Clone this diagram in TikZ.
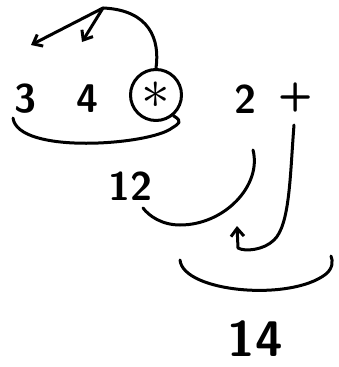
\documentclass[tikz,border=0pt]{standalone}
\usepackage{tikz}
\usepackage{graphicx}
\usetikzlibrary{arrows.meta}

\begin{document}
\begin{tikzpicture}[x=1pt, y=-1pt, line width=3pt, line cap=round, line join=round,
    every node/.style={font=\sffamily\bfseries\fontsize{40}{40}\selectfont, inner sep=0pt},
    hand/.style={-{Straight Barb[length=8pt, width=13pt]}}]
    \useasboundingbox (0,0) rectangle (338,367);
    %\draw[help lines] grid(338,367);
    % -------------------------
    % Top row: 3 4 (*) 2 +
    % -------------------------
    \node (three) at (26,99) {3};
    \node (four) at (87,99) {4};
    \node[circle, draw, minimum size=51pt] (star) at (156,95) {\scalebox{2.3}{$\mathbf{\ast}$}};
    \node (two) at (245,99) {2};
    \node (plus) at (296,97) {+};

    % Arrows from the operator back to its operands
    \coordinate (top) at (103,8);
    \coordinate (tipthree) at (31,45);
    \coordinate (tipfour) at (82,42);
    \draw[hand] (star.north) .. controls (160,40) and (150,10) .. (top) -- (tipthree);
    \draw[hand] (top) -- (tipfour);

    % -------------------------
    % First result ("12")
    % -------------------------
    \draw (13,118) .. controls (18,155) and (150,145) .. (172,128)
        .. controls (178,124) and (184,122) .. (star.-50);
    \node (twelve) at (130,186) {12};
    \coordinate (twostart) at (253,150);
    \draw (twostart) .. controls (262,185) and (225,225) .. (180,225)
        .. controls (162,225) and (149,216) .. (143,208);

    % -------------------------
    % Second operator ("+")
    % -------------------------
    \coordinate (plusstart) at (294,125);
    \coordinate (tipplus) at (237,226);
    \draw[hand] (plusstart) .. controls (290,175) and (290,225) .. (274,240)
        .. controls (264,250) and (245,252) .. (238,248) -- (tipplus);

    % -------------------------
    % Final result ("14")
    % -------------------------
    \draw (180,260) .. controls (183,292) and (290,302) .. (326,274)
        .. controls (333,268) and (333,261) .. (331,256);
    \node[font=\sffamily\bfseries\fontsize{50}{50}\selectfont] (fourteen) at (255,339) {14};
\end{tikzpicture}
\end{document}
